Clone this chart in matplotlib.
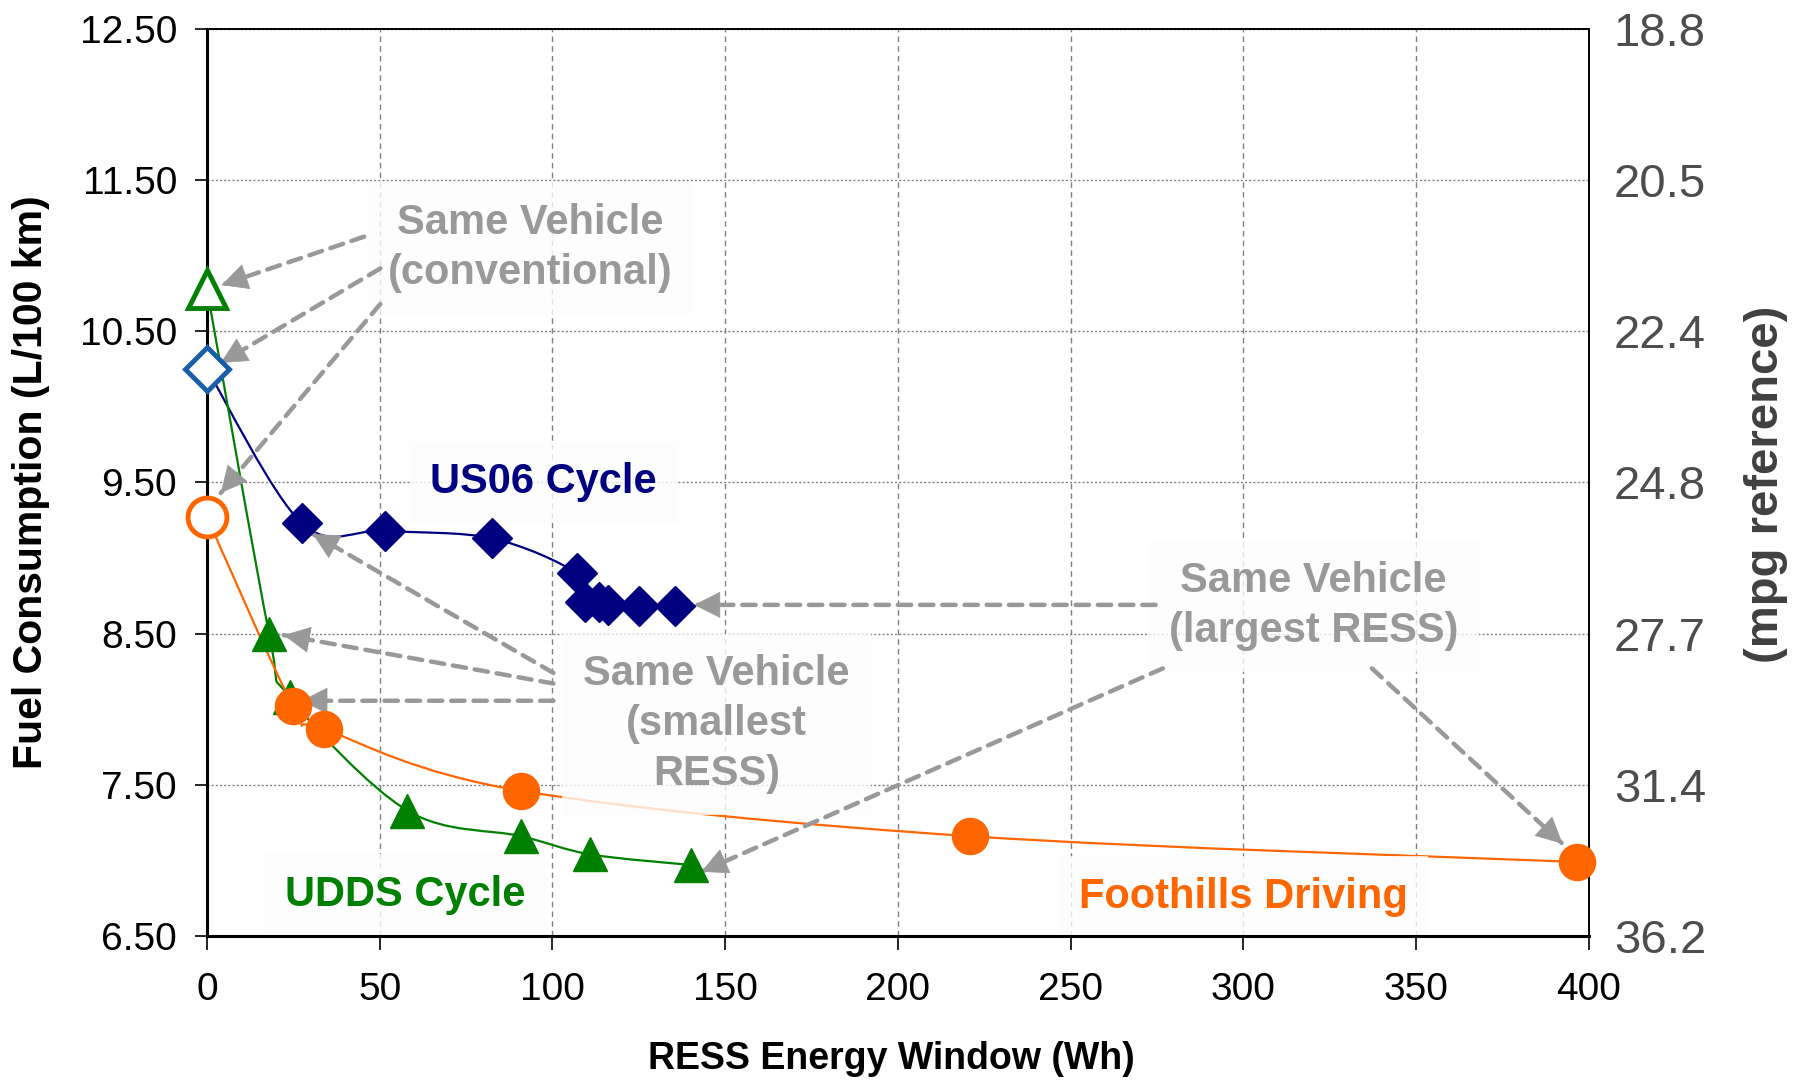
import numpy as np
import matplotlib
matplotlib.use('Agg')
import matplotlib.pyplot as plt
from matplotlib.path import Path
from matplotlib.patches import PathPatch

plt.rcParams['font.family'] = ['Liberation Sans', 'DejaVu Sans']

# RESS energy window (Wh) vs fuel consumption (L/100 km); first point = conventional vehicle
us06_x = [0, 27.5, 51.5, 82.5, 107, 109.5, 113.5, 116, 125, 135.5]
us06_y = [10.25, 9.23, 9.18, 9.13, 8.90, 8.71, 8.71, 8.69, 8.68, 8.68]

udds_x = [0, 18, 24, 58, 91, 111, 140]
udds_y = [10.78, 8.50, 8.08, 7.33, 7.16, 7.04, 6.97]

foot_x = [0, 25, 34, 91, 221, 396.5]
foot_y = [9.27, 8.02, 7.87, 7.46, 7.16, 6.99]

y_ticks = [6.5, 7.5, 8.5, 9.5, 10.5, 11.5, 12.5]
x_ticks = [0, 50, 100, 150, 200, 250, 300, 350, 400]
mpg_labels = ['36.2', '31.4', '27.7', '24.8', '22.4', '20.5', '18.8']

NAVY = '#000080'
BLUE = '#1a5ea8'
GREEN = '#008000'
ORANGE = '#ff6600'
GRAY = '#999999'


def smooth_path(x, y):
    # excel-like smoothed line (catmull-rom as cubic beziers)
    pts = np.column_stack([x, y]).astype(float)
    n = len(pts)
    verts = [pts[0]]
    codes = [Path.MOVETO]
    for i in range(n - 1):
        p0 = pts[i - 1] if i > 0 else pts[i]
        p1 = pts[i]
        p2 = pts[i + 1]
        p3 = pts[i + 2] if i + 2 < n else pts[i + 1]
        verts += [p1 + (p2 - p0) / 6, p2 - (p3 - p1) / 6, p2]
        codes += [Path.CURVE4] * 3
    return Path(verts, codes)


fig = plt.figure(figsize=(18.01, 10.81), dpi=100)
ax = fig.add_axes([0.1149, 0.1341, 0.7673, 0.8393])

series = [
    (us06_x, us06_y, NAVY, BLUE, 'D', 20),
    (udds_x, udds_y, GREEN, GREEN, '^', 25),
    (foot_x, foot_y, ORANGE, ORANGE, 'o', 26),
]
for xs, ys, col, open_col, mk, ms in series:
    ax.add_patch(PathPatch(smooth_path(xs, ys), fc='none', ec=col, lw=1.6, zorder=3))
    ax.plot(xs[1:], ys[1:], ls='none', marker=mk, ms=ms, color=col, mec=col,
            zorder=8, clip_on=False)
    ax.plot(xs[:1], ys[:1], ls='none', marker=mk, ms=ms + 2, mfc='white', mec=open_col,
            mew=3.5, zorder=8, clip_on=False)

ax.set_xlim(0, 400)
ax.set_ylim(6.5, 12.5)
ax.set_xticks(x_ticks)
ax.set_yticks(y_ticks)
ax.set_yticklabels(['%.2f' % v for v in y_ticks])
ax.tick_params(axis='x', direction='out', length=10, width=1.2, labelsize=28, pad=16)
ax.tick_params(axis='y', direction='out', length=8.5, width=1.2, labelsize=28, pad=13)
ax.xaxis.grid(True, color='#808080', lw=1, ls=(0, (4, 3)))
ax.yaxis.grid(True, color='#808080', lw=1, ls=(0, (1.5, 1.5)))
ax.set_axisbelow(True)
for side in ['left', 'bottom']:
    ax.spines[side].set_linewidth(2.2)
for side in ['top', 'right']:
    ax.spines[side].set_linewidth(1.4)
for s in ax.spines.values():
    s.set_zorder(7)

ax2 = ax.twinx()
ax2.set_ylim(ax.get_ylim())
ax2.set_yticks(y_ticks)
ax2.set_yticklabels(mpg_labels)
ax2.tick_params(axis='y', length=0, labelsize=34, pad=18, labelcolor='#4d4d4d')
for s in ax2.spines.values():
    s.set_visible(False)

fig.text(891.5 / 1801, 1 - 1059 / 1081, 'RESS Energy Window (Wh)', ha='center', va='center',
         fontsize=27, fontweight='bold')
fig.text(31 / 1801, 1 - 482.5 / 1081, 'Fuel Consumption (L/100 km)', ha='center', va='center',
         rotation=90, fontsize=29.5, fontweight='bold')
fig.text(1765.6 / 1801, 1 - 484 / 1081, '(mpg reference)', ha='center', va='center',
         rotation=90, fontsize=34, fontweight='bold', color='#404040')

box = dict(boxstyle='square,pad=0.5', fc='#fdfdfd', ec='none', alpha=0.8)
labels = [
    (93.5, 11.05, 'Same Vehicle\n(conventional)', GRAY),
    (97.5, 9.50, 'US06 Cycle', NAVY),
    (147.5, 7.90, 'Same Vehicle\n(smallest\nRESS)', GRAY),
    (320.3, 8.68, 'Same Vehicle\n(largest RESS)', GRAY),
    (57.3, 6.77, 'UDDS Cycle', GREEN),
    (299.9, 6.76, 'Foothills Driving', ORANGE),
]
for tx, ty, txt, col in labels:
    ax.text(tx, ty, txt, ha='center', va='center', fontsize=30, fontweight='bold',
            color=col, bbox=box, zorder=5, linespacing=1.32)

# (start, end) of the dashed pointer arrows, data coords
arrows = [
    ((45.5, 11.125), (4.2, 10.805)),
    ((50.2, 10.915), (4.0, 10.29)),
    ((50.2, 10.68), (4.0, 9.43)),
    ((100.3, 8.24), (30.6, 9.16)),
    ((100.3, 8.17), (22.2, 8.49)),
    ((100.3, 8.056), (27.3, 8.056)),
    ((274.6, 8.69), (141.0, 8.69)),
    ((276.7, 8.27), (143.1, 6.925)),
    ((337.2, 8.27), (392.4, 7.11)),
]
for start, end in arrows:
    ax.annotate('', xy=end, xytext=start, zorder=6,
                arrowprops=dict(arrowstyle='-', color=GRAY, lw=3.2, ls=(0, (3, 2)),
                                shrinkA=0, shrinkB=0))
    # solid head on a short final piece of the same direction
    sx = end[0] + 0.06 * (start[0] - end[0])
    sy = end[1] + 0.06 * (start[1] - end[1])
    ax.annotate('', xy=end, xytext=(sx, sy), zorder=6,
                arrowprops=dict(arrowstyle='-|>,head_length=0.9,head_width=0.45',
                                color=GRAY, lw=0.5, mutation_scale=20,
                                shrinkA=0, shrinkB=0))

fig.savefig('out.png', dpi=100)
